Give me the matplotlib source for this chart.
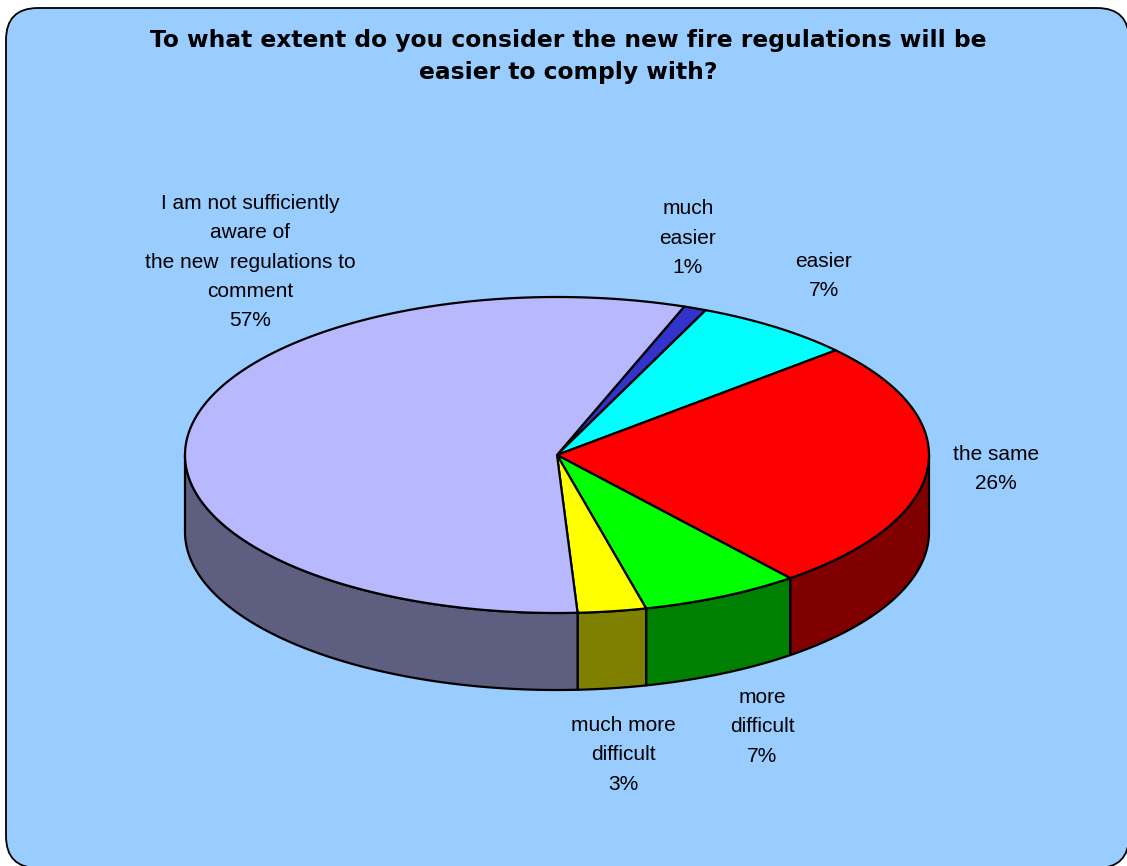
import numpy as np
import matplotlib
matplotlib.use("Agg")
import matplotlib.pyplot as plt
from matplotlib.patches import Polygon, FancyBboxPatch

plt.rcParams['font.family'] = ['Liberation Sans', 'DejaVu Sans']

# Survey answers, in clockwise order starting from the top of the pie
categories = ["much\neasier", "easier", "the same", "more\ndifficult",
              "much more\ndifficult",
              "I am not sufficiently\naware of\nthe new  regulations to\ncomment"]
values = [1, 7, 26, 7, 3, 57]
top_colors = ["#3333CC", "#00FFFF", "#FF0000", "#00FF00", "#FFFF00", "#B8B8FF"]
side_colors = ["#1A1A66", "#008080", "#800000", "#008000", "#808000", "#5E5E80"]
label_pos = [(688, 238), (824, 276), (996, 469), (762, 727), (623, 755), (250, 262)]

W, H = 1127, 866
fig = plt.figure(figsize=(W / 100, H / 100), dpi=100)
ax = fig.add_axes([0, 0, 1, 1])
ax.set_xlim(0, W)
ax.set_ylim(H, 0)
ax.axis('off')

# Chart area background
ax.add_patch(FancyBboxPatch((6, 8), W - 4, H - 6,
                            boxstyle="round,pad=0,rounding_size=32",
                            facecolor="#99CCFF", edgecolor="black", lw=1.3))

title_font = dict(ha='center', va='center', fontsize=16.8, fontweight='bold',
                  family=['DejaVu Sans'])
ax.text(568, 41, "To what extent do you consider the new fire regulations will be",
        **title_font)
ax.text(568, 73, "easier to comply with?", **title_font)

# Pie geometry (elliptical projection of a tilted disc)
cx, cy, a, b, depth = 557, 455, 372, 158, 77
start = 20.0


def pt(theta, dy=0.0):
    t = np.radians(theta)
    return cx + a * np.sin(t), cy - b * np.cos(t) + dy


total = float(sum(values))
bounds = [start]
for v in values:
    bounds.append(bounds[-1] + v / total * 360.0)

# Side walls of the front half
for i in range(len(values)):
    t0, t1 = bounds[i], bounds[i + 1]
    for off in (0, 360):
        s = max(t0, 90 + off)
        e = min(t1, 270 + off)
        if e <= s:
            continue
        th = np.linspace(s, e, 80)
        x, y = pt(th)
        xb, yb = pt(th[::-1], depth)
        poly = np.column_stack([np.concatenate([x, xb]), np.concatenate([y, yb])])
        ax.add_patch(Polygon(poly, closed=True, facecolor=side_colors[i],
                             edgecolor='black', lw=1.6, joinstyle='round'))

# Top faces
for i in range(len(values)):
    th = np.linspace(bounds[i], bounds[i + 1], 200)
    x, y = pt(th)
    poly = np.column_stack([np.concatenate([[cx], x]), np.concatenate([[cy], y])])
    ax.add_patch(Polygon(poly, closed=True, facecolor=top_colors[i],
                         edgecolor='black', lw=1.6, joinstyle='round'))

# Data labels
for cat, v, (lx, ly) in zip(categories, values, label_pos):
    ax.text(lx, ly, f"{cat}\n{v}%", ha='center', va='center',
            fontsize=15, linespacing=1.68, color='black')

fig.savefig("out.png", dpi=100)
